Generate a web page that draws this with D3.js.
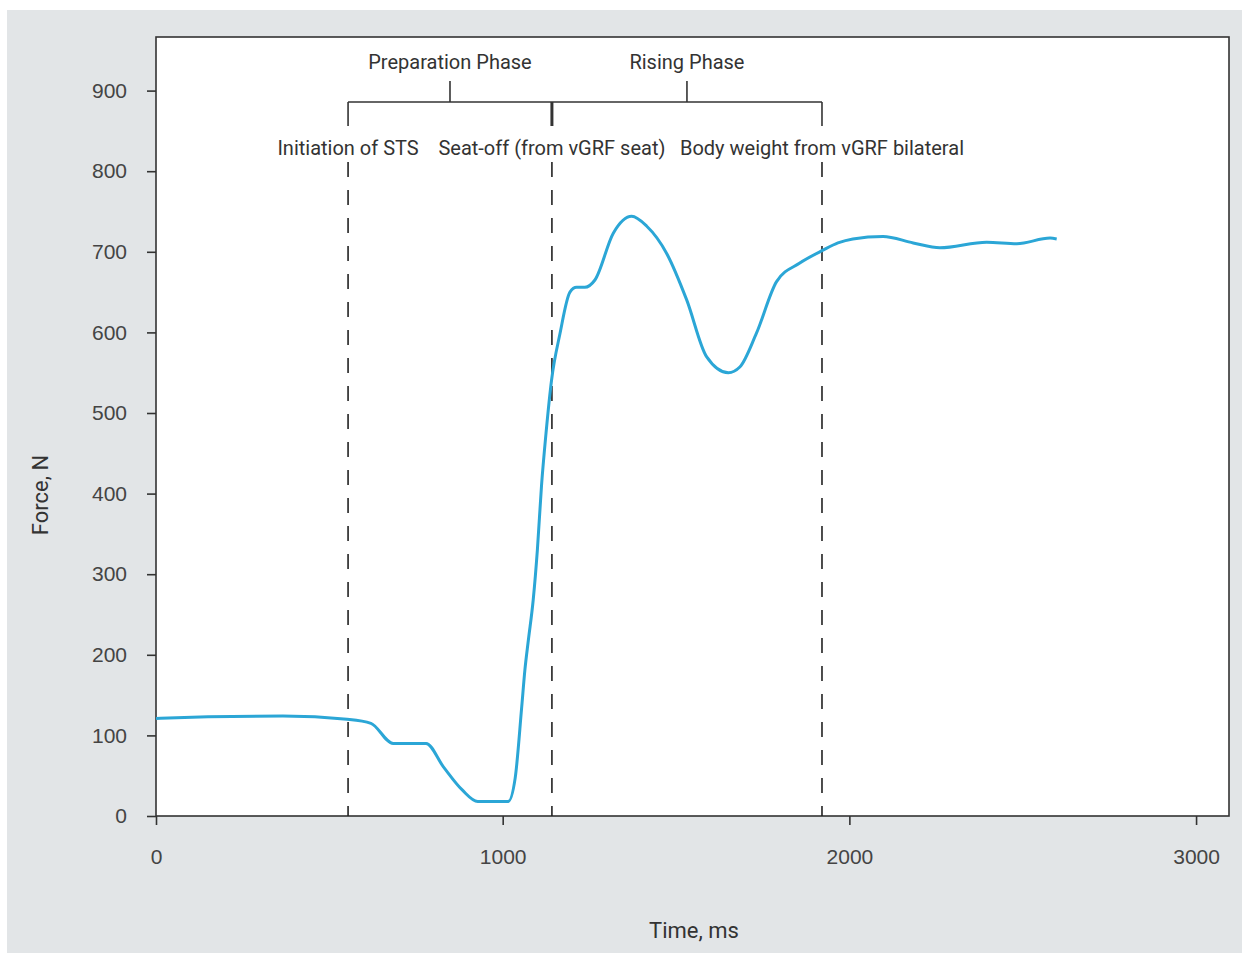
<!DOCTYPE html>
<style>
  body { margin: 0; background: #fff; }
  svg { font-family: Roboto, "Liberation Sans Narrow", sans-serif; }
</style>
<svg width="1242" height="953"></svg>
<script src="https://d3js.org/d3.v7.min.js"></script>
<script>

// force trace (time ms, force N)
var time  = [0, 150, 366, 551, 620, 684, 779, 829, 884, 928, 1016, 1036, 1055, 1064, 1074, 1088, 1100, 1112, 1125, 1141, 1165, 1194, 1213, 1237, 1266, 1319, 1372, 1415, 1473, 1531, 1588, 1651, 1684, 1732, 1790, 1857, 1924, 1967, 2010, 2097, 2184, 2261, 2396, 2483, 2579, 2598];
var force = [121, 123, 124, 120, 115, 90, 90, 61, 32, 18, 18, 47, 136, 181, 218, 268, 330, 410, 475, 541, 598, 650, 656, 656, 665, 723, 744, 732, 698, 640, 570, 550, 557, 599, 663, 686, 702, 711, 716, 719, 711, 705, 712, 710, 717, 716];

var xTicks = [0, 1000, 2000, 3000];
var yTicks = [0, 100, 200, 300, 400, 500, 600, 700, 800, 900];

// event markers and phase brackets
var events = [
  {t: 554,  label: "Initiation of STS"},
  {t: 1142, label: "Seat-off (from vGRF seat)"},
  {t: 1921, label: "Body weight from vGRF bilateral"}
];
var phases = ["Preparation Phase", "Rising Phase"];

var svg = d3.select("svg");

svg.append("rect")
  .attr("x", 7).attr("y", 10)
  .attr("width", 1235).attr("height", 943)
  .attr("fill", "#e2e5e7");

var pLeft = 156, pTop = 37, pRight = 1229, pBottom = 816;

var x = d3.scaleLinear().domain([0, 3095]).range([pLeft, pRight]);
var y = d3.scaleLinear().domain([0, 966.5]).range([pBottom, pTop]);

svg.append("rect")
  .attr("x", pLeft).attr("y", pTop)
  .attr("width", pRight - pLeft).attr("height", pBottom - pTop)
  .attr("fill", "#fff")
  .attr("stroke", "#333")
  .attr("stroke-width", 1.6);

// axes
var xAxis = svg.append("g")
  .attr("transform", "translate(0," + pBottom + ")")
  .call(d3.axisBottom(x).tickValues(xTicks).tickSize(9).tickPadding(24).tickFormat(d3.format("d")));

var yAxis = svg.append("g")
  .attr("transform", "translate(" + pLeft + ",0)")
  .call(d3.axisLeft(y).tickValues(yTicks).tickSize(9).tickPadding(20).tickFormat(d3.format("d")));

[xAxis, yAxis].forEach(function(g) {
  g.select(".domain").remove();
  g.selectAll("line").attr("stroke", "#333").attr("stroke-width", 1.6);
  g.selectAll("text")
    .attr("fill", "#444")
    .style("font-family", "inherit")
    .style("font-size", "21px");
});

// dashed event lines
svg.selectAll(".event")
  .data(events)
  .enter().append("line")
  .attr("x1", function(d) { return x(d.t); })
  .attr("x2", function(d) { return x(d.t); })
  .attr("y1", 162)
  .attr("y2", pBottom)
  .attr("stroke", "#222")
  .attr("stroke-width", 1.6)
  .attr("stroke-dasharray", "15,13");

svg.selectAll(".evlabel")
  .data(events)
  .enter().append("text")
  .attr("x", function(d) { return x(d.t); })
  .attr("y", 155)
  .attr("text-anchor", "middle")
  .attr("fill", "#333")
  .style("font-size", "20px")
  .text(function(d) { return d.label; });

// phase bracket
var bracketY = 102;
svg.append("line")
  .attr("x1", x(events[0].t)).attr("x2", x(events[2].t))
  .attr("y1", bracketY).attr("y2", bracketY)
  .attr("stroke", "#333").attr("stroke-width", 1.6);

svg.selectAll(".bdrop")
  .data(events)
  .enter().append("line")
  .attr("x1", function(d) { return x(d.t); })
  .attr("x2", function(d) { return x(d.t); })
  .attr("y1", bracketY)
  .attr("y2", 126)
  .attr("stroke", "#333")
  .attr("stroke-width", function(d, i) { return i == 1 ? 3 : 1.6; });

svg.selectAll(".phase")
  .data(phases)
  .enter().append("g")
  .each(function(d, i) {
    var cx = (x(events[i].t) + x(events[i + 1].t)) / 2;
    var g = d3.select(this);
    g.append("line")
      .attr("x1", cx).attr("x2", cx)
      .attr("y1", 81).attr("y2", bracketY)
      .attr("stroke", "#333").attr("stroke-width", 1.6);
    g.append("text")
      .attr("x", cx).attr("y", 69)
      .attr("text-anchor", "middle")
      .attr("fill", "#333")
      .style("font-size", "20px")
      .text(d);
  });

// force curve
var line = d3.line()
  .x(function(d, i) { return x(time[i]); })
  .y(function(d) { return y(d); })
  .curve(d3.curveMonotoneX);

svg.append("path")
  .datum(force)
  .attr("d", line)
  .attr("fill", "none")
  .attr("stroke", "#2ba6d6")
  .attr("stroke-width", 3);

// axis titles
svg.append("text")
  .attr("x", 694).attr("y", 938)
  .attr("text-anchor", "middle")
  .attr("fill", "#333")
  .style("font-size", "22px")
  .text("Time, ms");

svg.append("text")
  .attr("transform", "translate(48,495) rotate(-90)")
  .attr("text-anchor", "middle")
  .attr("fill", "#333")
  .style("font-size", "22px")
  .text("Force, N");

</script>
